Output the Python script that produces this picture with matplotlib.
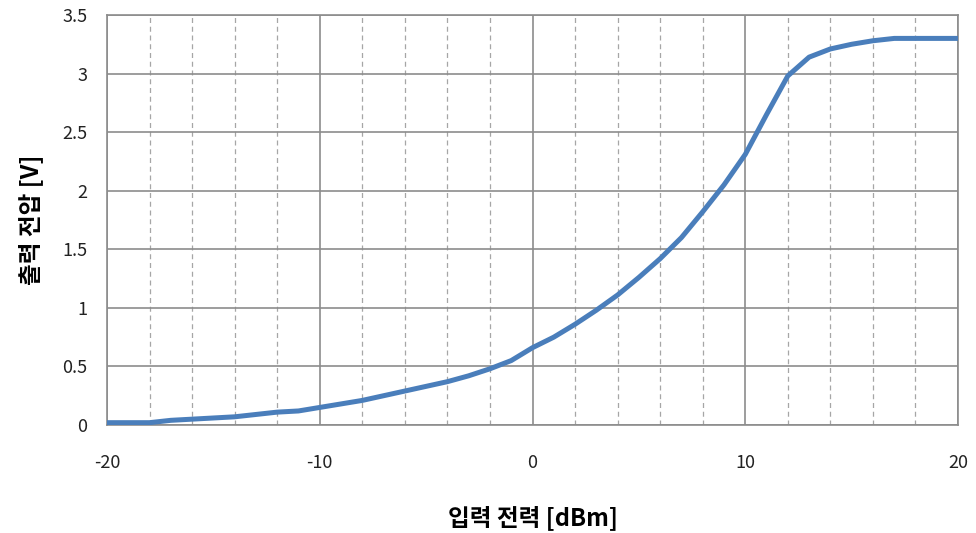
import matplotlib
matplotlib.use("Agg")
import matplotlib.pyplot as plt
from matplotlib.ticker import MultipleLocator

plt.rcParams['font.family'] = ['Noto Sans CJK KR', 'DejaVu Sans']

input_power_dbm = list(range(-20, 21))
output_voltage = [
    0.02, 0.02, 0.02, 0.04, 0.05, 0.06, 0.07, 0.09, 0.11, 0.12,
    0.15, 0.18, 0.21, 0.25, 0.29, 0.33, 0.37, 0.42, 0.48, 0.55,
    0.66, 0.75, 0.86, 0.98, 1.11, 1.26, 1.42, 1.60, 1.82, 2.05,
    2.31, 2.65, 2.98, 3.14, 3.21, 3.25, 3.28, 3.30, 3.30, 3.30,
    3.30,
]
x_ticks = [-20, -10, 0, 10, 20]
y_ticks = [0, 0.5, 1, 1.5, 2, 2.5, 3, 3.5]
y_tick_labels = ['0', '0.5', '1', '1.5', '2', '2.5', '3', '3.5']

fig = plt.figure(figsize=(9.76, 5.33), dpi=100)
ax = fig.add_axes([0.1096, 0.2026, 0.8720, 0.7693])

ax.plot(input_power_dbm, output_voltage, color='#4a7ebb', linewidth=3.6,
        solid_capstyle='butt', zorder=3)

ax.set_xlim(-20, 20)
ax.set_ylim(0, 3.5)
ax.set_xticks(x_ticks)
ax.set_xticklabels([str(t) for t in x_ticks])
ax.set_yticks(y_ticks)
ax.set_yticklabels(y_tick_labels)
ax.xaxis.set_minor_locator(MultipleLocator(2))

ax.grid(which='major', axis='both', color='#8c8c8c', linewidth=1.2, linestyle='-')
ax.grid(which='minor', axis='x', color='#a6a6a6', linewidth=0.9, linestyle=(0, (4, 3)))
ax.set_axisbelow(True)

for s in ax.spines.values():
    s.set_color('#8c8c8c')
    s.set_linewidth(1.2)

ax.tick_params(axis='both', which='both', length=0, labelsize=13, colors='#222222')
ax.tick_params(axis='x', pad=21)
ax.tick_params(axis='y', pad=14)

ax.set_xlabel('입력 전력 [dBm]', fontsize=17, fontweight='bold', labelpad=24)
ax.set_ylabel('출력 전압 [V]', fontsize=17, fontweight='bold', labelpad=14)

fig.savefig('out.png', dpi=100)
